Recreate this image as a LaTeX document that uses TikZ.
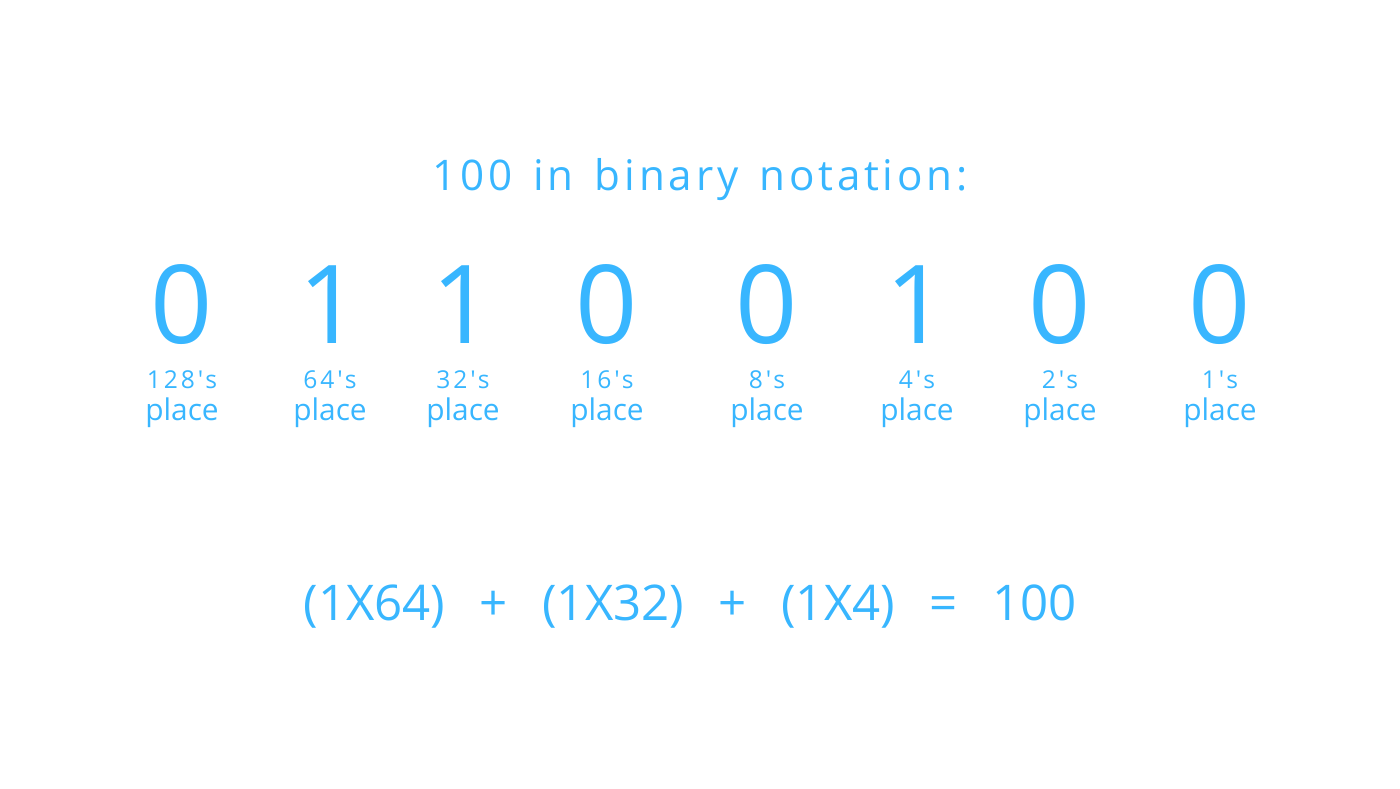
\documentclass[tikz,border=0pt]{standalone}
\usepackage{fontspec}
\newfontfamily\handfont{Open Sans}
\usetikzlibrary{positioning}

\begin{document}
\begin{tikzpicture}[
  digit/.style={text=skyb, font=\handfont\fontsize{62}{70}\selectfont, inner sep=0pt},
  weight/.style={text=skyb, font=\handfont\fontsize{14}{16}\selectfont\addfontfeature{LetterSpace=12}, inner sep=1pt},
  place/.style={text=skyb, font=\handfont\fontsize{17}{20}\selectfont, inner sep=1pt}
]

\definecolor{skyb}{RGB}{56,182,255}

\useasboundingbox (0,0) rectangle (28,15.76);

\node[text=skyb, font=\handfont\fontsize{24}{28}\selectfont\addfontfeature{LetterSpace=9}] (title) at (14,12.16)
  {100\enspace in\enspace binary\enspace notation:};

% bits, highest place first
\node[digit] (b7) at (3.64,9.66) {0};
\node[digit] (b6) at (6.60,9.66) {1};
\node[digit] (b5) at (9.26,9.66) {1};
\node[digit] (b4) at (12.14,9.66) {0};
\node[digit] (b3) at (15.34,9.66) {0};
\node[digit] (b2) at (18.34,9.66) {1};
\node[digit] (b1) at (21.20,9.66) {0};
\node[digit] (b0) at (24.40,9.66) {0};

% place values under each bit
\node[weight] (w7) at (3.64,8.16) {128's};
\node[weight] (w6) at (6.60,8.16) {64's};
\node[weight] (w5) at (9.26,8.16) {32's};
\node[weight] (w4) at (12.14,8.16) {16's};
\node[weight] (w3) at (15.34,8.16) {8's};
\node[weight] (w2) at (18.34,8.16) {4's};
\node[weight] (w1) at (21.20,8.16) {2's};
\node[weight] (w0) at (24.40,8.16) {1's};

\node[place] (p7) at (3.64,7.50) {place};
\node[place] (p6) at (6.60,7.50) {place};
\node[place] (p5) at (9.26,7.50) {place};
\node[place] (p4) at (12.14,7.50) {place};
\node[place] (p3) at (15.34,7.50) {place};
\node[place] (p2) at (18.34,7.50) {place};
\node[place] (p1) at (21.20,7.50) {place};
\node[place] (p0) at (24.40,7.50) {place};

\node[text=skyb, font=\handfont\fontsize{28}{32}\selectfont] (sum) at (13.8,3.62)
  {(1X64)\hspace{0.7em}+\hspace{0.7em}(1X32)\hspace{0.7em}+\hspace{0.7em}(1X4)\hspace{0.7em}=\hspace{0.7em}100};

\end{tikzpicture}
\end{document}
